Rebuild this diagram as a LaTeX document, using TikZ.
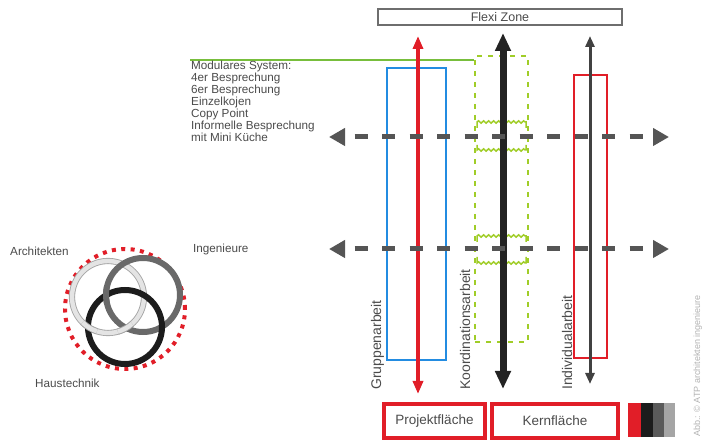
\documentclass[tikz,border=0pt]{standalone}
\usepackage{fontspec}
\setmainfont{Liberation Sans}
\usetikzlibrary{arrows.meta,decorations.pathmorphing,calc}
\definecolor{tgray}{RGB}{75,75,75}
\definecolor{dashgray}{RGB}{85,85,85}
\definecolor{fgray}{RGB}{110,110,110}
\definecolor{atpred}{RGB}{225,30,40}
\definecolor{atpblue}{RGB}{35,140,225}
\definecolor{lime}{RGB}{160,205,40}
\definecolor{greenline}{RGB}{120,190,60}
\definecolor{darkarrow}{RGB}{35,35,35}
\definecolor{midarrow}{RGB}{65,65,65}
\definecolor{ringlight}{RGB}{228,228,228}
\definecolor{ringedge}{RGB}{165,165,165}
\definecolor{ringgray}{RGB}{105,105,105}
\definecolor{ringblack}{RGB}{28,28,28}
\definecolor{swdark}{RGB}{90,90,90}
\definecolor{swlight}{RGB}{165,165,165}
\begin{document}
\begin{tikzpicture}[x=1pt,y=-1pt,
  lbl/.style={text=tgray, inner sep=0pt},
  smalllbl/.style={lbl, font=\fontsize{11.7}{12}\selectfont},
  rotlbl/.style={lbl, rotate=90, anchor=base west, font=\fontsize{14}{16}\selectfont},
  zonebox/.style={draw=atpblue, line width=2.5pt, inner sep=0pt},
  squig/.style={lime, line width=1.5pt, decoration={snake, segment length=5pt, amplitude=1.2pt}},
  hdash/.style={dashgray, line width=5pt, dash pattern=on 13pt off 14.5pt, dash phase=17pt,
     {Triangle[length=16pt,width=17pt]}-{Triangle[length=16pt,width=17pt]}},
  redbox/.style={draw=atpred, line width=4pt, inner sep=0pt, minimum height=34pt,
     font=\fontsize{13.5}{15}\selectfont, text=tgray},
  lightring/.style={draw=ringedge, double=ringlight, double distance=4.4pt, line width=0.9pt},
  grayring/.style={draw=ringgray, line width=6pt},
  blackring/.style={draw=ringblack, line width=6pt}
]
\useasboundingbox (0,0) rectangle (705,443);

% Flexi Zone
\node[draw=fgray, line width=1.2pt, minimum width=244pt, minimum height=16pt, inner sep=0pt,
      font=\fontsize{12.5}{14}\selectfont, text=tgray] (flexi) at (500,17) {Flexi Zone};

% zone rectangles
\node[zonebox, minimum width=59pt, minimum height=292pt] (grp) at (416.5,214) {};
\node[draw=lime, line width=2.2pt, dash pattern=on 5pt off 6pt, inner sep=0pt,
      minimum width=53pt, minimum height=286pt] (koo) at (501.5,199) {};
\node[draw=atpred, line width=2.5pt, inner sep=0pt, minimum width=33pt, minimum height=283pt] (ind) at (590.5,216.5) {};

% green line to modular system
\coordinate (gl) at (190,60);
\draw[greenline, line width=1.5pt] (gl) -- (gl -| koo.west);

% squiggles
\draw[squig] (477,128) -- (477,122) decorate{-- (526,122)} -- (526,128);
\draw[squig] (477,145) -- (477,150) decorate{-- (526,150)} -- (526,145);
\draw[squig] (477,242) -- (477,236) decorate{-- (526,236)} -- (526,242);
\draw[squig] (477,257) -- (477,263) decorate{-- (526,263)} -- (526,257);

% vertical arrows
\coordinate (rT) at (418,36);  \coordinate (rB) at (418,394);
\coordinate (kT) at (503,33);  \coordinate (kB) at (503,389);
\coordinate (iT) at (590,36);  \coordinate (iB) at (590,384);
\draw[atpred, line width=4.5pt, {Triangle[length=13pt,width=10pt]}-{Triangle[length=13pt,width=10pt]}] (rT) -- (rB);
\draw[darkarrow, line width=7pt, {Triangle[length=18pt,width=15pt]}-{Triangle[length=18pt,width=15pt]}] (kT) -- (kB);
\draw[midarrow, line width=3pt, {Triangle[length=11pt,width=9pt]}-{Triangle[length=11pt,width=9pt]}] (iT) -- (iB);

% horizontal dashed arrows
\coordinate (h1l) at (329,137); \coordinate (h1r) at (669,137);
\coordinate (h2l) at (329,249); \coordinate (h2r) at (669,249);
\draw[hdash] (h1l) -- (h1r);
\draw[hdash] (h2l) -- (h2r);

% modular system text
\node[smalllbl, anchor=north west, align=left] (mod) at (191,61)
 {Modulares System:\\4er Besprechung\\6er Besprechung\\Einzelkojen\\Copy Point\\Informelle Besprechung\\mit Mini Küche};

% rotated labels
\node[rotlbl] (gruppe) at (381,390) {Gruppenarbeit};
\node[rotlbl] (koord) at (470,390) {Koordinationsarbeit};
\node[rotlbl] (indiv) at (572,390) {Individualarbeit};

% bottom boxes
\node[redbox, minimum width=101pt] (proj) at (434.5,421) {Projektfläche};
\node[redbox, minimum width=126pt] (kern) at (555,421) {Kernfläche};

% swatches
\fill[atpred] (628,403) rectangle (640.5,437);
\fill[ringblack] (640.5,403) rectangle (652.5,437);
\fill[swdark] (652.5,403) rectangle (664,437);
\fill[swlight] (664,403) rectangle (675,437);

% credit
\node[rotate=90, anchor=base west, inner sep=0pt, font=\fontsize{9}{10}\selectfont, text=gray!60] (credit) at (700,437)
 {Abb.: © ATP architekten ingenieure};

% rings
\coordinate (lc) at (108,297);
\coordinate (gc) at (143,295);
\coordinate (bc) at (125,327);
\coordinate (rc) at (125,309);
\draw[atpred, line width=4pt, dash pattern=on 4pt off 5.4pt] (rc) circle[radius=60pt];
\draw[lightring] (lc) circle[radius=36pt];
\draw[grayring] (gc) circle[radius=37pt];
\draw[blackring] (bc) circle[radius=37pt];
\draw[lightring] ($(lc)+(225:36pt)$) arc[start angle=225, end angle=252, radius=36pt];
\draw[lightring] ($(lc)+(286:36pt)$) arc[start angle=286, end angle=312, radius=36pt];
\draw[grayring] ($(gc)+(166:37pt)$) arc[start angle=166, end angle=194, radius=37pt];

\node[smalllbl, anchor=base west] (arch) at (10,256) {Architekten};
\node[smalllbl, anchor=base west] (inge) at (193,253) {Ingenieure};
\node[smalllbl, anchor=base west] (haus) at (35,388) {Haustechnik};
\end{tikzpicture}
\end{document}
